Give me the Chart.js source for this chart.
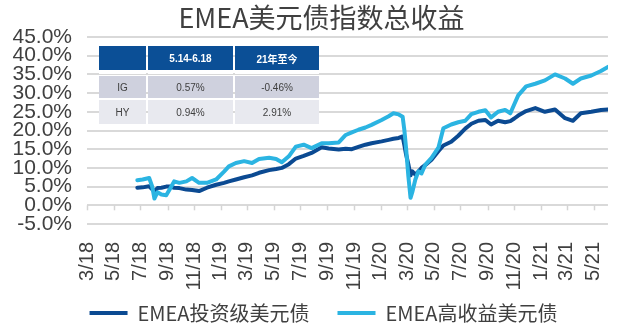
<!DOCTYPE html>
<html>
<head>
<meta charset="utf-8">
<script src="https://cdn.jsdelivr.net/npm/chart.js@4.4.1/dist/chart.umd.min.js"></script>
<style>
    body { margin: 0; background: #fff; }
    .wrap { position: relative; width: 628px; height: 335px; }
    .perf {
        position: absolute;
        left: 97px;
        top: 44px;
        border-collapse: separate;
        border-spacing: 2px;
        font-family: "Liberation Sans", "Noto Sans CJK SC", sans-serif;
        font-size: 10px;
        color: #404040;
        text-align: center;
    }
    .perf th {
        background: #0b4f96;
        color: #fff;
        font-weight: bold;
        height: 24px;
        padding: 0;
        border-bottom: 4px solid #fff;
    }
    .perf td { height: 22px; padding: 0; }
    .perf tr.ig td { background: #cfd1de; }
    .perf tr.hy td { background: #e8e9ef; height: 24px; }
</style>
</head>
<body>
<div class="wrap">
    <canvas id="emea" width="628" height="335"></canvas>
    <table class="perf" id="perf"></table>
</div>
<script>
// x-axis labels, one every two months
const tickLabels = [
    "3/18", "5/18", "7/18", "9/18", "11/18",
    "1/19", "3/19", "5/19", "7/19", "9/19", "11/19",
    "1/20", "3/20", "5/20", "7/20", "9/20", "11/20",
    "1/21", "3/21", "5/21",
];

const dates = [
    "2018-06-24", "2018-07-06", "2018-07-21", "2018-07-28", "2018-08-02", "2018-08-09",
    "2018-08-18", "2018-08-29", "2018-09-07", "2018-09-16", "2018-09-28", "2018-10-14",
    "2018-10-27", "2018-11-12", "2018-11-30", "2018-12-21", "2019-01-08", "2019-01-19",
    "2019-02-04", "2019-02-23", "2019-03-13", "2019-03-29", "2019-04-21", "2019-05-07",
    "2019-05-20", "2019-06-05", "2019-06-21", "2019-07-09", "2019-07-27", "2019-08-19",
    "2019-09-04", "2019-09-27", "2019-10-13", "2019-10-27", "2019-11-11", "2019-11-27",
    "2019-12-11", "2020-01-03", "2020-01-19", "2020-01-30", "2020-02-11", "2020-02-20",
    "2020-02-24", "2020-02-28", "2020-03-04", "2020-03-09", "2020-03-13", "2020-03-20",
    "2020-03-27", "2020-04-03", "2020-04-12", "2020-04-26", "2020-05-12", "2020-05-23",
    "2020-06-10", "2020-06-26", "2020-07-12", "2020-07-26", "2020-08-11", "2020-08-27",
    "2020-09-09", "2020-09-25", "2020-10-11", "2020-10-23", "2020-11-01", "2020-11-10",
    "2020-11-28", "2020-12-19", "2021-01-10", "2021-02-02", "2021-02-25", "2021-03-15",
    "2021-04-02", "2021-04-26", "2021-05-18", "2021-06-03",
];

// EMEA投资级美元债 (IG), total return %
const igValues = [
    4.7, 4.8, 5.1, 4.3, 3.8, 4.6,
    4.7, 5.0, 5.0, 4.7, 4.6, 4.2,
    4.1, 3.8, 4.7, 5.5, 6.0, 6.4,
    6.9, 7.5, 8.0, 8.7, 9.4, 9.7,
    10.0, 11.0, 12.5, 13.2, 14.0, 15.5,
    15.2, 14.9, 15.1, 15.0, 15.6, 16.2,
    16.6, 17.1, 17.5, 17.8, 18.0, 18.4,
    16.0, 13.5, 11.0, 8.0, 9.1, 8.2,
    9.0, 10.0, 10.8, 12.2, 14.5, 16.0,
    17.0, 18.6, 20.5, 21.8, 22.6, 22.8,
    21.6, 22.6, 22.2, 22.5, 23.2, 24.0,
    25.2, 26.0, 25.0, 25.6, 23.3, 22.6,
    24.6, 25.0, 25.5, 25.6,
];

// EMEA高收益美元债 (HY), total return %
const hyValues = [
    6.7, 6.9, 7.3, 5.0, 1.8, 3.5,
    2.9, 2.7, 4.5, 6.4, 6.0, 6.4,
    7.3, 6.0, 6.0, 6.9, 9.0, 10.4,
    11.3, 11.8, 11.3, 12.4, 12.7, 12.4,
    11.5, 13.1, 15.7, 16.2, 15.3, 16.6,
    16.6, 16.8, 18.8, 19.5, 20.2, 20.8,
    21.5, 22.8, 23.8, 24.6, 24.3, 23.7,
    20.0, 15.0, 7.8, 2.0, 3.5, 6.9,
    9.1, 8.5, 10.9, 12.7, 15.5, 20.6,
    21.6, 22.2, 22.6, 24.4, 25.0, 25.4,
    23.5, 25.0, 25.5, 24.6, 27.0, 29.4,
    31.8, 32.5, 33.4, 35.0, 33.9, 32.5,
    33.9, 34.7, 35.9, 37.0,
];

const tableHead = ["", "5.14-6.18", "21年至今"];
const tableRows = [
    ["IG", "0.57%", "-0.46%"],
    ["HY", "0.94%", "2.91%"],
];

// days since 1 Mar 2018
const DAY = 86400000;
const START = Date.UTC(2018, 2, 1);
const dayOf = (s) => {
    const [y, m, d] = s.split("-").map(Number);
    return (Date.UTC(y, m - 1, d) - START) / DAY;
};
const tickDay = (label) => {
    const [m, yy] = label.split("/").map(Number);
    return (Date.UTC(2000 + yy, m - 1, 1) - START) / DAY;
};

const xs = dates.map(dayOf);
const toPoints = (vals) => vals.map((v, i) => ({ x: xs[i], y: v }));

// small tick marks hanging under the 0% line
const zeroTicks = {
    id: "zeroTicks",
    beforeDatasetsDraw(chart) {
        const { ctx, scales: { x, y } } = chart;
        const y0 = y.getPixelForValue(0);
        ctx.save();
        ctx.strokeStyle = "#d4d4d4";
        ctx.lineWidth = 1.5;
        x.ticks.forEach((t) => {
            const px = Math.round(x.getPixelForValue(t.value)) + 0.5;
            ctx.beginPath();
            ctx.moveTo(px, y0);
            ctx.lineTo(px, y0 + 5);
            ctx.stroke();
        });
        ctx.restore();
    },
};

// title and legend sit a bit right of centre; legend box grows upward
const nudge = {
    id: "nudge",
    afterLayout(chart) {
        chart.titleBlock.left += 16;
        chart.titleBlock.right += 16;
        chart.legend.left += 18;
        chart.legend.right += 18;
        chart.legend.top -= 15;
        chart.legend.bottom = chart.height;
    },
};

const cjk = '"Noto Sans CJK SC", "Noto Sans", sans-serif';
const latin = '"Liberation Sans", Arial, sans-serif';

const emeaChart = new Chart(document.getElementById("emea"), {
    type: "line",
    data: {
        datasets: [
            {
                label: "EMEA投资级美元债",
                data: toPoints(igValues),
                borderColor: "#0b4a92",
                backgroundColor: "#0b4a92",
                borderWidth: 4,
                pointRadius: 0,
                tension: 0,
                borderJoinStyle: "round",
                borderCapStyle: "round",
                order: 1,
            },
            {
                label: "EMEA高收益美元债",
                data: toPoints(hyValues),
                borderColor: "#2bb4e2",
                backgroundColor: "#2bb4e2",
                borderWidth: 4,
                pointRadius: 0,
                tension: 0,
                borderJoinStyle: "round",
                borderCapStyle: "round",
                order: 0,
            },
        ],
    },
    options: {
        responsive: false,
        animation: false,
        events: [],
        layout: { padding: { left: 0, right: 17, top: 0, bottom: 0 } },
        plugins: {
            title: {
                display: true,
                text: "EMEA美元债指数总收益",
                color: "#404040",
                font: { family: cjk, size: 27, weight: "normal", lineHeight: 1.2 },
                padding: { top: 2, bottom: 2.6 },
            },
            legend: {
                position: "bottom",
                maxHeight: 45,
                labels: {
                    boxWidth: 38,
                    boxHeight: 4,
                    padding: 28,
                    color: "#404040",
                    font: { family: cjk, size: 20 },
                    sort: (a, b) => a.datasetIndex - b.datasetIndex,
                    generateLabels(chart) {
                        return Chart.defaults.plugins.legend.labels.generateLabels(chart).map((item) => {
                            item.lineWidth = 0;
                            return item;
                        });
                    },
                },
            },
            tooltip: { enabled: false },
        },
        scales: {
            x: {
                type: "linear",
                min: 0,
                max: xs[xs.length - 1],
                border: { display: false },
                grid: { display: false },
                afterBuildTicks(scale) {
                    scale.ticks = tickLabels.map((l) => ({ value: tickDay(l) }));
                },
                afterFit(scale) {
                    scale.height = 66;
                },
                ticks: {
                    autoSkip: false,
                    minRotation: 90,
                    maxRotation: 90,
                    padding: 10,
                    color: "#404040",
                    font: { family: latin, size: 20 },
                    callback: (v, i) => tickLabels[i],
                },
            },
            y: {
                min: -5,
                max: 45,
                border: { display: false },
                grid: { color: "#d9d9d9", lineWidth: 2, drawTicks: false },
                afterFit(scale) {
                    scale.width = 87;
                },
                ticks: {
                    stepSize: 5,
                    autoSkip: false,
                    padding: 15,
                    color: "#404040",
                    font: { family: latin, size: 21 },
                    callback: (v) => v.toFixed(1) + "%",
                },
            },
        },
    },
    plugins: [zeroTicks, nudge],
});

// return table in the top-left corner
const perf = document.getElementById("perf");
const headRow = perf.insertRow();
tableHead.forEach((h, i) => {
    const th = document.createElement("th");
    th.textContent = h;
    th.style.width = ["47px", "85px", "84px"][i];
    headRow.appendChild(th);
});
tableRows.forEach((r) => {
    const tr = perf.insertRow();
    tr.className = r[0].toLowerCase();
    r.forEach((c) => {
        tr.insertCell().textContent = c;
    });
});
</script>
</body>
</html>
